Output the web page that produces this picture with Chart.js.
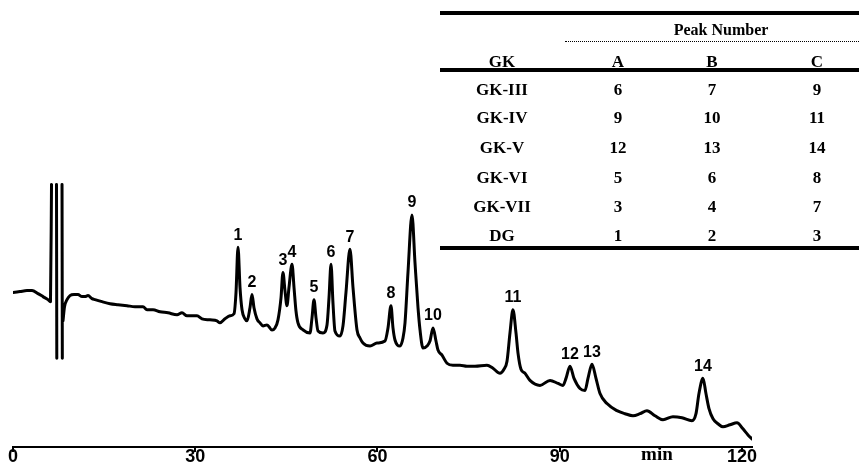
<!DOCTYPE html>
<html>
<head>
<meta charset="utf-8">
<script src="https://cdn.jsdelivr.net/npm/chart.js@4.4.1/dist/chart.umd.min.js"></script>
<style>
    html, body { margin: 0; padding: 0; background: #fff; }
    #wrap { position: relative; width: 859px; height: 465px; overflow: hidden; }
    #chrom { position: absolute; left: 0; top: 0; }
    .rule { position: absolute; left: 440px; width: 419px; background: #000; }
    .dots { position: absolute; left: 565px; width: 294px; border-top: 1.5px dotted #000; }
    .cell {
        position: absolute; width: 120px; height: 20px; line-height: 20px;
        text-align: center; color: #000; white-space: nowrap;
        font: bold 17px "Liberation Serif", "Times New Roman", serif;
    }
</style>
</head>
<body>
<div id="wrap">
    <canvas id="chrom" width="859" height="465"></canvas>
    <div id="table"></div>
</div>
<script>
// retention time (min) and detector signal (arbitrary units); null = pen break at the solvent front
const retentionTime = [
    0.00, 1.15, 2.30, 3.13, 4.12, 4.94, 5.76, 6.17, 6.34, 6.40,
    7.16, 7.21, 7.60,
    8.07, 8.12, 8.18,
    8.23, 8.48, 8.89, 9.38, 10.04, 10.70, 11.36, 11.85, 12.35, 13.00,
    13.50, 14.65, 15.97, 17.28, 18.77, 20.08, 21.40, 22.06, 23.05, 24.20,
    25.51, 27.00, 27.82, 28.64, 29.47, 30.29, 31.11, 32.43, 33.58, 34.07,
    34.90, 35.72, 36.38, 36.71, 37.04, 37.37, 37.70, 38.19, 38.52, 39.01,
    39.34, 39.67, 40.16, 40.66, 41.15, 41.81, 42.63, 43.13, 43.62, 44.12,
    44.44, 44.77, 45.10, 45.43, 45.93, 46.26, 46.58, 46.91, 47.74, 48.89,
    49.22, 49.55, 49.88, 50.21, 51.03, 51.69, 52.02, 52.35, 52.67, 53.00,
    53.83, 54.32, 54.81, 55.47, 55.97, 56.63, 57.12, 57.61, 58.77, 59.92,
    61.23, 61.73, 62.22, 62.55, 62.88, 63.70, 64.20, 64.53, 65.02, 65.68,
    66.17, 66.67, 67.00, 67.49, 68.15, 68.64, 69.14, 69.63, 69.96, 70.62,
    71.44, 72.43, 73.58, 74.73, 76.05, 78.02, 79.01, 80.16, 80.82, 81.32,
    81.81, 82.30, 82.80, 83.13, 83.62, 84.28, 85.10, 86.75, 88.40, 89.71,
    90.53, 91.03, 91.69, 92.35, 93.33, 94.16, 94.65, 95.31, 95.97, 96.63,
    97.78, 99.42, 100.74, 102.06, 103.21, 104.36, 105.68, 107.00, 108.64, 110.12,
    111.77, 112.43, 112.92, 113.58, 114.07, 114.57, 115.23, 116.05, 116.87, 118.02,
    119.18, 120.16, 120.99, 121.65
];
const signal = [
    153, 154, 155, 155, 152, 149, 146, 144, 260, null,
    260, 88, null,
    260, 88, null,
    125, 139, 146, 150, 151, 151, 149, 149, 150, 147,
    146, 144, 142, 141, 140, 139, 139, 136, 136, 134,
    133, 131, 133, 130, 130, 130, 127, 126, 125, 123,
    127, 130, 132, 153, 198, 158, 136, 127, 125, 138,
    151, 138, 127, 123, 120, 121, 116, 118, 126, 148,
    173, 155, 140, 158, 181, 158, 135, 123, 116, 113,
    128, 146, 128, 115, 113, 121, 148, 181, 143, 115,
    110, 120, 153, 196, 158, 116, 108, 103, 100, 103,
    105, 118, 140, 118, 106, 100, 108, 123, 173, 230,
    183, 138, 116, 98, 100, 105, 118, 105, 96, 91,
    83, 81, 81, 80, 80, 81, 78, 73, 77, 85,
    113, 136, 113, 93, 77, 73, 66, 61, 66, 63,
    61, 68, 80, 68, 58, 56, 68, 82, 68, 53,
    43, 36, 33, 31, 33, 36, 31, 27, 30, 29,
    26, 33, 53, 68, 53, 38, 28, 23, 20, 22,
    24, 18, 12, 8
];

// numbered peaks: apex time and height
const peakNumbers = ['1', '2', '3', '4', '5', '6', '7', '8', '9', '10', '11', '12', '13', '14'];
const peakTimes = [37.04, 39.34, 44.44, 45.93, 49.55, 52.35, 55.47, 62.22, 65.68, 69.14, 82.30, 91.69, 95.31, 113.58];
const peakHeights = [198, 151, 173, 181, 146, 181, 196, 140, 230, 118, 136, 80, 82, 68];

const xTicks = [0, 30, 60, 90, 120];
const xUnit = 'min';

// peak assignment table
const tableHeader = ['GK', 'A', 'B', 'C'];
const tableGroup = 'Peak Number';
const gkNames = ['GK-III', 'GK-IV', 'GK-V', 'GK-VI', 'GK-VII', 'DG'];
const peakA = [6, 9, 12, 5, 3, 1];
const peakB = [7, 10, 13, 6, 4, 2];
const peakC = [9, 11, 14, 8, 7, 3];

function buildTable() {
    const box = document.getElementById('table');
    const colX = [502, 618, 712, 817];
    const rowY = [90, 118, 148, 178, 207, 236];

    const addCell = (text, cx, cy, size) => {
        const d = document.createElement('div');
        d.className = 'cell';
        d.textContent = text;
        d.style.left = (cx - 60) + 'px';
        d.style.top = (cy - 10) + 'px';
        if (size) d.style.fontSize = size + 'px';
        box.appendChild(d);
    };
    const addRule = (top, h) => {
        const d = document.createElement('div');
        d.className = 'rule';
        d.style.top = top + 'px';
        d.style.height = h + 'px';
        box.appendChild(d);
    };

    addRule(11, 4);
    addCell(tableGroup, 721, 31, 16);
    const dots = document.createElement('div');
    dots.className = 'dots';
    dots.style.top = '41px';
    box.appendChild(dots);
    tableHeader.forEach((h, i) => addCell(h, colX[i], 62));
    addRule(68, 4);
    gkNames.forEach((name, r) => {
        addCell(name, colX[0], rowY[r]);
        addCell(String(peakA[r]), colX[1], rowY[r]);
        addCell(String(peakB[r]), colX[2], rowY[r]);
        addCell(String(peakC[r]), colX[3], rowY[r]);
    });
    addRule(246, 4);
}

const peakLabelPlugin = {
    id: 'peakLabels',
    afterDatasetsDraw(chart) {
        const { ctx, scales } = chart;
        ctx.save();
        ctx.fillStyle = '#000';
        ctx.textAlign = 'center';
        ctx.textBaseline = 'middle';
        ctx.font = 'bold 16px "Liberation Sans", Arial, sans-serif';
        peakNumbers.forEach((label, i) => {
            const x = scales.x.getPixelForValue(peakTimes[i]);
            const y = scales.y.getPixelForValue(peakHeights[i]);
            ctx.fillText(label, x, y - 12);
        });
        // axis unit, set between the 90 and 120 ticks
        ctx.font = 'bold 19px "Liberation Serif", "Times New Roman", serif';
        ctx.fillText(xUnit, scales.x.getPixelForValue(106), 455);
        ctx.restore();
    }
};

function renderChromatogram() {
    const ctx = document.getElementById('chrom');

    new Chart(ctx, {
        type: 'line',
        data: {
            datasets: [{
                data: retentionTime.map((t, i) => ({ x: t, y: signal[i] })),
                borderColor: '#000',
                borderWidth: 3,
                pointRadius: 0,
                cubicInterpolationMode: 'monotone',
                borderJoinStyle: 'round',
                borderCapStyle: 'round',
                spanGaps: false,
            }],
        },
        options: {
            responsive: false,
            animation: false,
            events: [],
            layout: {
                padding: { left: 13, right: 107, top: 10, bottom: 3 },
            },
            plugins: {
                legend: { display: false },
                tooltip: { enabled: false },
            },
            scales: {
                x: {
                    type: 'linear',
                    min: 0,
                    max: 121.65,
                    afterBuildTicks: (scale) => {
                        scale.ticks = xTicks.map((v) => ({ value: v }));
                    },
                    border: { display: true, color: '#000', width: 2 },
                    grid: {
                        display: true,
                        drawOnChartArea: false,
                        drawTicks: true,
                        tickLength: 5,
                        color: '#000',
                        lineWidth: 2,
                    },
                    ticks: {
                        color: '#000',
                        padding: -4,
                        maxRotation: 0,
                        autoSkip: false,
                        font: {
                            family: '"Liberation Sans", Arial, sans-serif',
                            weight: 'bold',
                            size: 18,
                            lineHeight: 1,
                        },
                    },
                },
                y: {
                    display: false,
                    min: 0,
                    max: 433,
                },
            },
        },
        plugins: [peakLabelPlugin],
    });
}

buildTable();
renderChromatogram();
</script>
</body>
</html>
